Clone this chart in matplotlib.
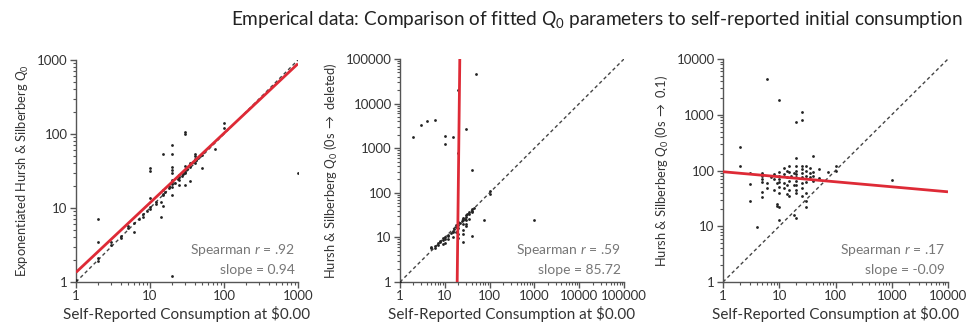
import numpy as np
import matplotlib
matplotlib.use("Agg")
import matplotlib.pyplot as plt
from matplotlib import font_manager
from matplotlib.ticker import LogLocator, FuncFormatter, NullFormatter

plt.rcParams['font.family'] = ['Lato', 'DejaVu Sans']
plt.rcParams['mathtext.fontset'] = 'custom'
plt.rcParams['mathtext.rm'] = 'Lato'
plt.rcParams['mathtext.it'] = 'Lato:italic'

# exponentiated Q0 vs self-reported consumption
x1 = [1, 2, 2, 2, 2, 3, 3, 4, 4, 5, 5, 6, 6, 7, 8, 8, 9, 10, 10, 10, 10, 10,
      12, 12, 14, 14, 15, 15, 15, 15, 15, 16, 18, 18, 20, 20, 20, 20, 20, 20,
      20, 20, 20, 20, 20, 22, 24, 25, 25, 25, 25, 27, 28, 30, 30, 30, 30, 30,
      30, 30, 32, 35, 35, 35, 38, 40, 40, 40, 40, 42, 45, 50, 50, 75, 100, 100,
      1000]
y1 = [1.05, 7.0, 3.5, 1.9, 2.1, 3.2, 3.5, 4.2, 3.9, 5.3, 5.8, 4.8, 6.2, 7.0,
      8.2, 7.6, 9.0, 35, 32, 13.5, 10.4, 9.8, 12.2, 11.5, 7.5, 12.2, 53, 10.6,
      17.5, 15.5, 14.8, 16.5, 18.5, 20, 71, 53, 36, 33, 30, 15, 1.2, 21, 22.5,
      24, 19.5, 22, 25, 20.5, 26, 28, 24, 27, 29, 105, 100, 20.5, 31, 33, 37,
      30, 34, 23, 36, 40, 42, 40, 46, 50, 54, 44, 48, 35, 52, 62, 119, 139, 30]

# Q0 with zeros deleted
x2 = [1, 2, 3, 4, 6, 10, 10, 15, 20, 20, 30, 50, 40, 5, 5, 6, 6, 7, 7, 8, 8, 9,
      9, 9, 10, 10, 10, 12, 12, 12, 14, 15, 15, 15, 16, 18, 18, 18, 20, 20, 20,
      20, 20, 20, 22, 24, 25, 25, 25, 25, 25, 25, 28, 30, 30, 30, 30, 30, 32,
      35, 35, 35, 40, 40, 40, 40, 45, 75, 100, 100, 1000]
y2 = [1, 1750, 3250, 4100, 4300, 1850, 1250, 1780, 20000, 780, 2650, 45000,
      330, 5.7, 6.0, 6.3, 5.9, 6.8, 7.3, 7.8, 8.4, 8.9, 9.6, 7, 10.2, 9.3, 7.5,
      11.5, 10.5, 9, 12.5, 14, 13, 10, 15.5, 17, 18.5, 13, 19, 20.5, 22, 16, 12,
      9.5, 21.5, 23, 8, 25, 27, 20, 15, 12, 26, 29, 31, 25, 20, 18, 34, 33, 38,
      26, 11, 37, 40, 43, 45, 25, 95, 112, 25]

# Q0 with zeros replaced by 0.1
x3 = [2, 2, 3, 3, 3, 4, 5, 5, 5, 5, 5, 5, 6, 6, 6, 7, 8, 8, 8, 9, 9, 9, 10, 10,
      10, 10, 10, 10, 10, 10, 10, 12, 12, 12, 12, 14, 14, 14, 14, 15, 15, 15,
      15, 15, 16, 18, 18, 18, 20, 20, 20, 20, 20, 20, 20, 20, 20, 20, 20, 25,
      25, 25, 25, 25, 25, 25, 25, 25, 30, 30, 30, 30, 30, 30, 30, 35, 35, 35,
      40, 40, 40, 40, 50, 50, 75, 100, 100, 1000]
y3 = [260, 122, 90, 57, 28, 9.5, 90, 80, 70, 62, 42, 34, 4300, 60, 48, 75, 70,
      85, 45, 60, 25, 23, 1850, 22, 13, 95, 80, 70, 62, 50, 40, 110, 85, 60, 48,
      100, 75, 55, 38, 120, 95, 65, 45, 35, 80, 16, 90, 55, 750, 170, 14, 120,
      100, 85, 75, 65, 55, 45, 40, 1100, 820, 120, 105, 90, 75, 60, 48, 35, 120,
      100, 80, 62, 40, 28, 22, 110, 90, 75, 180, 95, 80, 65, 105, 72, 95, 118,
      100, 68]

# fitted log-log regression lines: log10(y) = intercept + slope * log10(x)
slopes = [0.94, 85.72, -0.09]
intercepts = [np.log10(1.35), -85.72 * np.log10(18.9), np.log10(95)]
spearman = ['.92', '.59', '.17']
slope_labels = ['0.94', '85.72', '-0.09']

ylabels = [r'Exponentiated Hursh & Silberberg $Q_0$',
           r'Hursh & Silberberg $Q_0$ (0s $\rightarrow$ deleted)',
           r'Hursh & Silberberg $Q_0$ (0s $\rightarrow$ 0.1)']
xmax = [1000, 100000, 10000]
ymax = [1000, 100000, 10000]

W, H = 972, 335
fig = plt.figure(figsize=(W / 100, H / 100), dpi=100)
boxes = [(76, 53, 222, 222), (400, 53, 224, 223), (723, 53, 225, 223)]

grey = '#555555'
txt = '#333333'
red = '#de2a36'

data = [(x1, y1), (x2, y2), (x3, y3)]
for i, (l, b, w, h) in enumerate(boxes):
    ax = fig.add_axes([l / W, b / H, w / W, h / H])
    xs, ys = data[i]
    ax.set_xscale('log')
    ax.set_yscale('log')
    ax.set_xlim(1, xmax[i])
    ax.set_ylim(1, ymax[i])

    # identity line
    ax.plot([1, min(xmax[i], ymax[i])], [1, min(xmax[i], ymax[i])],
            ls=(0, (2.5, 2)), color='#444444', lw=1, zorder=2)
    ax.scatter(xs, ys, s=4, color='#222222', zorder=3, linewidths=0)

    # regression line
    if abs(slopes[i]) > 10:
        yy = np.logspace(0, np.log10(ymax[i]), 50)
        xx = 10 ** ((np.log10(yy) - intercepts[i]) / slopes[i])
    else:
        xx = np.logspace(0, np.log10(xmax[i]), 50)
        yy = 10 ** (intercepts[i] + slopes[i] * np.log10(xx))
    ax.plot(xx, yy, color=red, lw=2, zorder=4, solid_capstyle='butt')

    for s in ['top', 'right']:
        ax.spines[s].set_visible(False)
    for s in ['left', 'bottom']:
        ax.spines[s].set_color(grey)
        ax.spines[s].set_linewidth(1)

    fmt = FuncFormatter(lambda v, p: f'{int(round(v))}')
    for axis in (ax.xaxis, ax.yaxis):
        axis.set_major_locator(LogLocator(base=10, numticks=10))
        axis.set_minor_locator(LogLocator(base=10, subs=np.arange(2, 10), numticks=20))
        axis.set_major_formatter(fmt)
        axis.set_minor_formatter(NullFormatter())
    ax.tick_params(which='major', length=4, width=1, color=grey,
                   labelsize=9.5, labelcolor=txt, pad=2)
    ax.tick_params(which='minor', length=2, width=0.8, color=grey)

    ax.set_xlabel('Self-Reported Consumption at $0.00', fontsize=11,
                  color=txt, labelpad=3)
    ax.set_ylabel(ylabels[i], fontsize=9.3, color=txt, labelpad=4)

    ax.text(0.985, 0.145, f'Spearman $r$ = {spearman[i]}', transform=ax.transAxes,
            ha='right', va='center', fontsize=10, color='#777777')
    ax.text(0.985, 0.055, f'slope = {slope_labels[i]}', transform=ax.transAxes,
            ha='right', va='center', fontsize=10, color='#777777')

# narrow face for the title if one is installed
title_family = ['Lato', 'DejaVu Sans']
try:
    font_manager.findfont(font_manager.FontProperties(family='Liberation Sans Narrow'),
                          fallback_to_default=False)
    title_family = ['Liberation Sans Narrow', 'DejaVu Sans']
except Exception:
    pass

title = fig.text(597 / W, 1 - 20 / H,
                 r'Emperical data: Comparison of fitted $Q_0$ parameters to self-reported initial consumption',
                 ha='center', va='center', fontsize=17, color='#222222',
                 family=title_family)
# shrink the title until it spans about 730 px
renderer = fig.canvas.get_renderer()
tw = title.get_window_extent(renderer).width
if tw > 730:
    title.set_fontsize(17 * 730 / tw)

fig.savefig('out.png', dpi=100)
